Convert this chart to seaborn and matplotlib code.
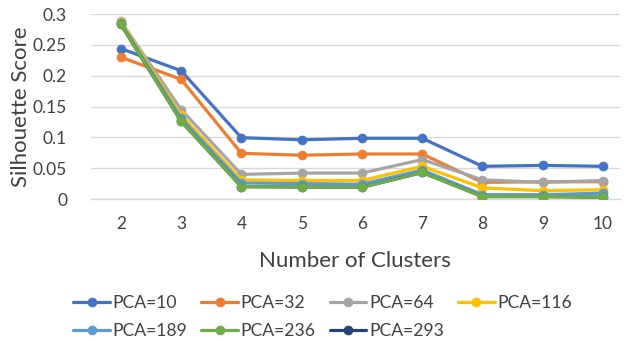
import numpy as np
import pandas as pd
import matplotlib
matplotlib.use('Agg')
import matplotlib.pyplot as plt
import seaborn as sns
from matplotlib.ticker import FixedLocator

clusters = [2, 3, 4, 5, 6, 7, 8, 9, 10]
pca_10 = [0.244, 0.208, 0.0995, 0.096, 0.0985, 0.0985, 0.053, 0.0545, 0.053]
pca_32 = [0.230, 0.194, 0.074, 0.071, 0.073, 0.073, 0.027, 0.028, 0.028]
pca_64 = [0.288, 0.145, 0.040, 0.042, 0.042, 0.064, 0.031, 0.027, 0.030]
pca_116 = [0.287, 0.136, 0.031, 0.030, 0.030, 0.053, 0.018, 0.0135, 0.015]
pca_189 = [0.285, 0.131, 0.026, 0.025, 0.024, 0.047, 0.007, 0.007, 0.0095]
pca_236 = [0.283, 0.126, 0.020, 0.0195, 0.019, 0.043, 0.004, 0.004, 0.003]
pca_293 = [0.283, 0.126, 0.020, 0.0195, 0.019, 0.043, 0.004, 0.004, 0.003]

y_ticks = [0, 0.05, 0.1, 0.15, 0.2, 0.25, 0.3]
y_tick_labels = ['0', '0.05', '0.1', '0.15', '0.2', '0.25', '0.3']

series = {
    'PCA=10': pca_10, 'PCA=32': pca_32, 'PCA=64': pca_64, 'PCA=116': pca_116,
    'PCA=189': pca_189, 'PCA=236': pca_236, 'PCA=293': pca_293,
}
colors = ['#4472C4', '#ED7D31', '#A5A5A5', '#FFC000', '#5B9BD5', '#70AD47', '#264478']
# navy series sits under the green one in the original
zorders = [3, 4, 5, 6, 7, 9, 8]

sns.set_style('white')
plt.rcParams['font.family'] = ['Lato', 'DejaVu Sans']

fig = plt.figure(figsize=(6.24, 3.41), dpi=100)
ax = fig.add_axes([0.1454, 0.4164, 0.848, 0.5425])

for (name, vals), c, z in zip(series.items(), colors, zorders):
    sns.lineplot(x=clusters, y=vals, ax=ax, color=c, marker='o', markersize=6.2,
                 markeredgecolor=c, linewidth=2.3, label=name, zorder=z)

ax.set_xlim(1.5, 10.28)
ax.set_ylim(0, 0.3)
ax.set_yticks(y_ticks)
ax.set_yticklabels(y_tick_labels)
ax.set_xticks(clusters)
ax.xaxis.set_minor_locator(FixedLocator([1.5, 3.5, 5.5, 7.5, 9.5]))
ax.tick_params(axis='x', which='major', length=0, pad=12, labelsize=12.5, colors='#404040')
ax.tick_params(axis='x', which='minor', length=5, color='#D9D9D9', width=1)
ax.tick_params(axis='y', length=0, pad=17, labelsize=12.5, colors='#404040')
ax.grid(axis='y', color='#D9D9D9', linewidth=1)
for s in ['top', 'right', 'left']:
    ax.spines[s].set_visible(False)
ax.spines['bottom'].set_color('#D9D9D9')
ax.spines['bottom'].set_linewidth(1)

ax.set_xlabel('Number of Clusters', fontsize=16, color='#404040', labelpad=14)
ax.set_ylabel('Silhouette Score', fontsize=16, color='#404040', labelpad=1)

handles, labels = ax.get_legend_handles_labels()
ax.legend_.remove()
# matplotlib fills legend columns first; reorder so entries run row by row
order = [0, 4, 1, 5, 2, 6, 3]
fig.legend([handles[i] for i in order], [labels[i] for i in order], ncol=4,
           loc='upper left', bbox_to_anchor=(0.106, 0.156),
           frameon=False, fontsize=12.6, handlelength=2.1, columnspacing=0.8,
           handletextpad=0.15, labelspacing=0.68, labelcolor='#404040', borderaxespad=0)

fig.savefig('out.png', dpi=100)
